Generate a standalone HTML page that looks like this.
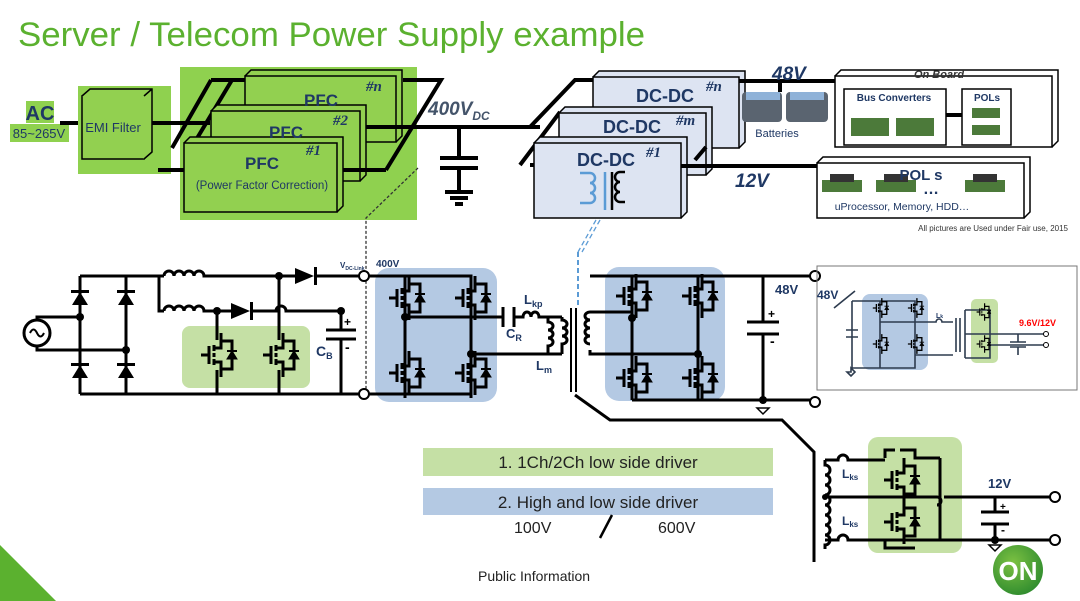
<!DOCTYPE html>
<html><head><meta charset="utf-8"><style>
html,body{margin:0;padding:0;background:#fff;}
svg{display:block;font-family:"Liberation Sans",sans-serif;}
</style></head><body>
<svg width="1080" height="601" viewBox="0 0 1080 601" xmlns="http://www.w3.org/2000/svg">
<defs>
<g id="m" fill="none" stroke="#000" stroke-width="3">
<path d="M-16 0H-8M-8 -9V9M-3 -10V-4M-3 -2V2M-3 4V10M-3 -7H4V-22M-3 7H4V22M4 -14H15V14H4"/>
<polygon points="10,4 20,4 15,-4" fill="#000" stroke-width="1"/>
<path d="M10 -4H20" stroke-width="2"/>
</g>
</defs>
<text x="18" y="46" font-size="34.5" fill="#5bb12f" textLength="627" lengthAdjust="spacingAndGlyphs">Server / Telecom Power Supply example</text>
<polygon points="0,545 0,601 56,601" fill="#5bb12f"/>

<!-- AC -->
<rect x="26" y="101" width="28" height="22" fill="#8fd14f"/>
<rect x="10" y="124" width="59" height="18" fill="#8fd14f"/>
<text x="40" y="120" font-size="20" font-weight="bold" fill="#1f3864" text-anchor="middle">AC</text>
<text x="39" y="138" font-size="13" fill="#1f3864" text-anchor="middle">85~265V</text>
<path d="M60 123H82" stroke="#000" stroke-width="4"/>
<rect x="78" y="86" width="93" height="88" fill="#8fd14f"/>
<rect x="82" y="96" width="62" height="63" fill="#92d050" stroke="#000" stroke-width="1.5"/>
<path d="M82 96l8-7h62v63l-8 7M144 96l8-7" fill="#92d050" stroke="#000" stroke-width="1.5"/>
<text x="113" y="132" font-size="13" fill="#1f3864" text-anchor="middle">EMI Filter</text>

<!-- PFC -->
<rect x="180" y="67" width="237" height="153" fill="#8fd14f"/>
<g stroke="#000" stroke-width="4" fill="none">
<path d="M152 123H210M158 170H185M211 80H246M211 80L172 148M232 80L190 150"/>
</g>
<g stroke="#000" stroke-width="1.5" fill="#92d050">
<path d="M245 76l6-6h151v66l-6 6"/><rect x="245" y="76" width="151" height="66"/>
<path d="M211 111l6-6h149v70l-6 6"/><rect x="211" y="111" width="149" height="70"/>
<path d="M184 143l6-6h153v69l-6 6"/><rect x="184" y="143" width="153" height="69"/>
</g>
<g font-weight="bold" fill="#1f3864" font-size="17" text-anchor="middle">
<text x="321" y="106">PFC</text><text x="286" y="138">PFC</text><text x="262" y="169">PFC</text></g>
<text x="262" y="189" font-size="11.5" fill="#1f3864" text-anchor="middle">(Power Factor Correction)</text>
<g font-family="Liberation Serif" font-style="italic" font-weight="bold" font-size="15" fill="#1f3864">
<text x="366" y="91">#n</text><text x="333" y="125">#2</text><text x="306" y="155">#1</text></g>
<g stroke="#000" stroke-width="4" fill="none">
<path d="M366 127H540M343 170H386M403 80H441L386 170"/>
<path d="M459 127V158M440 158h38M440 168h38M459 168V192M445 192h28M450 198h18M455 204h8"/>
</g>
<text x="428" y="115" font-size="19" font-weight="bold" font-style="italic" fill="#44546a">400V<tspan font-size="12" dy="5">DC</tspan></text>
<path d="M418 168L366 218V400" stroke="#333" stroke-width="1.3" stroke-dasharray="3,2" fill="none"/>

<!-- DC-DC -->
<g stroke="#000" stroke-width="4" fill="none">
<path d="M530 127L575 80H600M520 165L560 112M530 165H540"/>
</g>
<g stroke="#000" stroke-width="1.5" fill="#dde4f2">
<path d="M593 77l6-6h146v71l-6 6"/><rect x="593" y="77" width="146" height="71"/>
<path d="M559 113l6-6h147v62l-6 6"/><rect x="559" y="113" width="147" height="62"/>
<path d="M534 143l6-6h147v75l-6 6"/><rect x="534" y="143" width="147" height="75"/>
</g>
<g font-weight="bold" fill="#1f3864" font-size="18" text-anchor="middle">
<text x="665" y="102">DC-DC</text><text x="632" y="133">DC-DC</text><text x="606" y="166">DC-DC</text></g>
<g font-family="Liberation Serif" font-style="italic" font-weight="bold" font-size="15" fill="#1f3864">
<text x="706" y="91">#n</text><text x="676" y="125">#m</text><text x="646" y="157">#1</text></g>
<path d="M580 173h10a5 5 0 0 1 0 10a5 5 0 0 1 0 10a5 5 0 0 1 0 10h-10M605 172V210" stroke="#5b9bd5" stroke-width="2.5" fill="none"/>
<path d="M625 172h-5a5 5 0 0 0 0 10a5 5 0 0 0 0 10a5 5 0 0 0 0 10h5M612 172V210" stroke="#000" stroke-width="2.5" fill="none"/>
<g stroke="#000" stroke-width="4" fill="none">
<path d="M739 81H835M780 81V92M681 166H817M706 147L695 160"/>
</g>
<path d="M596 220L578 252M600 220L582 252" stroke="#5b9bd5" stroke-width="1.3" stroke-dasharray="5,3"/>
<text x="772" y="80" font-size="19" font-weight="bold" font-style="italic" fill="#1f3864">48V</text>
<text x="735" y="187" font-size="19" font-weight="bold" font-style="italic" fill="#1f3864">12V</text>
<rect x="742" y="92" width="40" height="30" rx="4" fill="#5a6470"/>
<rect x="786" y="92" width="42" height="30" rx="4" fill="#5a6470"/>
<rect x="746" y="92" width="34" height="8" fill="#8fb2d8"/><rect x="790" y="92" width="34" height="8" fill="#8fb2d8"/>
<text x="777" y="137" font-size="11" fill="#1f3864" text-anchor="middle">Batteries</text>
<g stroke="#000" stroke-width="1.5" fill="#fff">
<path d="M835 76l6-6h217v71l-6 6"/><rect x="835" y="76" width="217" height="71"/>
<rect x="844" y="89" width="102" height="56"/><rect x="962" y="89" width="49" height="56"/>
<path d="M817 163l6-6h207v55l-6 6"/><rect x="817" y="163" width="207" height="55"/>
</g>
<path d="M946 115H962" stroke="#000" stroke-width="4"/>
<text x="939" y="78" font-size="11" font-style="italic" font-weight="bold" fill="#333" text-anchor="middle">On Board</text>
<text x="894" y="101" font-size="10" font-weight="bold" fill="#1f3864" text-anchor="middle">Bus Converters</text>
<text x="987" y="101" font-size="10" font-weight="bold" fill="#1f3864" text-anchor="middle">POLs</text>
<g fill="#4c7a3a"><rect x="851" y="118" width="38" height="18"/><rect x="896" y="118" width="38" height="18"/>
<rect x="972" y="108" width="28" height="10"/><rect x="972" y="125" width="28" height="10"/>
<rect x="822" y="180" width="40" height="12"/><rect x="876" y="180" width="40" height="12"/><rect x="965" y="180" width="40" height="12"/></g>
<g fill="#333"><rect x="830" y="174" width="24" height="8"/><rect x="884" y="174" width="24" height="8"/><rect x="973" y="174" width="24" height="8"/></g>
<text x="921" y="180" font-size="15" font-weight="bold" fill="#1f3864" text-anchor="middle">POL  s</text>
<text x="931" y="194" font-size="16" font-weight="bold" fill="#1f3864" text-anchor="middle">…</text>
<text x="902" y="210" font-size="10.5" fill="#1f3864" text-anchor="middle">uProcessor, Memory, HDD…</text>
<text x="1068" y="231" font-size="8" fill="#333" text-anchor="end">All pictures are Used under Fair use, 2015</text>

<!-- PFC circuit -->
<rect x="182" y="326" width="128" height="62" rx="8" fill="#c5e0a5"/>
<rect x="375" y="268" width="122" height="134" rx="14" fill="#b4c9e3"/>
<rect x="605" y="267" width="120" height="134" rx="14" fill="#b4c9e3"/>
<g stroke="#000" stroke-width="3" fill="none">
<circle cx="37" cy="333" r="13"/>
<path d="M30 333q3.5-7 7 0t7 0" stroke-width="2"/>
<path d="M37 320V317H80M37 346V350H126"/>
<path d="M80 276V394M126 276V394M80 276H159M80 394H364"/>
<path d="M159 276V311H164M159 276H164"/>
<path d="M164 276a5 5 0 0 1 10 0a5 5 0 0 1 10 0a5 5 0 0 1 10 0a5 5 0 0 1 10 0H295M317 276H364"/>
<path d="M164 311a5 5 0 0 1 10 0a5 5 0 0 1 10 0a5 5 0 0 1 10 0a5 5 0 0 1 10 0H231M252 311H276a5 5 0 0 1 10 0H341V330M341 339V394"/>
<path d="M217 311V340M217 370V394M279 276V340M279 370V394"/>
<path d="M326 330h30M326 339h30"/>
</g>
<g fill="#000">
<polygon points="295,268 295,284 314,276"/><rect x="314" y="267" width="3" height="18"/>
<polygon points="231,303 231,319 250,311"/><rect x="250" y="302" width="3" height="18"/>
<polygon points="72,305 88,305 80,292"/><rect x="71" y="290" width="18" height="3"/>
<polygon points="118,305 134,305 126,292"/><rect x="117" y="290" width="18" height="3"/>
<polygon points="72,378 88,378 80,365"/><rect x="71" y="363" width="18" height="3"/>
<polygon points="118,378 134,378 126,365"/><rect x="117" y="363" width="18" height="3"/>
<circle cx="80" cy="317" r="4"/><circle cx="126" cy="350" r="4"/><circle cx="217" cy="311" r="4"/><circle cx="279" cy="276" r="4"/><circle cx="341" cy="311" r="4"/>
</g>
<use href="#m" x="217" y="355"/><use href="#m" x="279" y="355"/>
<text x="344" y="326" font-size="12" font-weight="bold">+</text><text x="345" y="352" font-size="14" font-weight="bold">-</text>
<text x="316" y="356" font-size="14" font-weight="bold" fill="#1f3864">C<tspan font-size="9" dy="3">B</tspan></text>
<text x="340" y="268" font-size="8" font-weight="bold" fill="#1f3864">V<tspan font-size="5" dy="2">DC-Link</tspan></text>
<text x="376" y="267" font-size="10" font-weight="bold" fill="#1f3864">400V</text>
<g stroke="#000" stroke-width="2" fill="#fff"><circle cx="364" cy="276" r="5"/><circle cx="364" cy="394" r="5"/></g>

<!-- full bridge primary -->
<g stroke="#000" stroke-width="3" fill="none">
<path d="M369 276H471V398M369 394H471M405 276V398M405 317H503M514 317H523a4 5 0 0 1 8 0a4 5 0 0 1 8 0H562M471 354H562"/>
<path d="M503 307v20M514 307v20"/>
<path d="M548 317v5a5 4 0 0 1 0 8a5 4 0 0 1 0 8a5 4 0 0 1 0 8v8"/>
<path d="M562 317v3a5 4 0 0 1 0 8a5 4 0 0 1 0 8a5 4 0 0 1 0 8v10"/>
<path d="M590 312a-5 4 0 0 0 0 8a-5 4 0 0 0 0 8a-5 4 0 0 0 0 8a-5 4 0 0 0 0 8"/>
<path d="M590 312H632M590 350v4H698M632 276V400M698 276V400M590 276H815M632 400H815M763 276V322M763 334V400"/>
<path d="M747 322h32M747 334h32"/>
<path d="M575 395L610 420H782L814 452V562"/>
</g>
<path d="M571 308V392M576 308V392" stroke="#000" stroke-width="2"/>
<path d="M578 252V305" stroke="#5b9bd5" stroke-width="2" stroke-dasharray="5,3"/>
<g fill="#000"><circle cx="405" cy="317" r="4"/><circle cx="471" cy="354" r="4"/><circle cx="632" cy="318" r="4"/><circle cx="698" cy="354" r="4"/><circle cx="763" cy="400" r="4"/></g>
<use href="#m" x="405" y="298"/><use href="#m" x="471" y="298"/><use href="#m" x="405" y="373"/><use href="#m" x="471" y="373"/>
<use href="#m" x="632" y="296"/><use href="#m" x="698" y="296"/><use href="#m" x="632" y="378"/><use href="#m" x="698" y="378"/>
<path d="M757 408h12l-6 6z" stroke="#000" stroke-width="1.5" fill="#fff"/>
<text x="524" y="304" font-size="13" font-weight="bold" fill="#1f3864">L<tspan font-size="9" dy="3">kp</tspan></text>
<text x="506" y="338" font-size="13" font-weight="bold" fill="#1f3864">C<tspan font-size="9" dy="3">R</tspan></text>
<text x="536" y="370" font-size="13" font-weight="bold" fill="#1f3864">L<tspan font-size="9" dy="3">m</tspan></text>
<text x="775" y="294" font-size="13" font-weight="bold" fill="#1f3864">48V</text>
<text x="768" y="318" font-size="12" font-weight="bold">+</text><text x="770" y="346" font-size="14" font-weight="bold">-</text>
<g stroke="#000" stroke-width="2" fill="#fff"><circle cx="815" cy="276" r="5"/><circle cx="815" cy="402" r="5"/></g>

<!-- inset -->
<rect x="817" y="266" width="260" height="124" fill="none" stroke="#777" stroke-width="1"/>
<rect x="862" y="294" width="66" height="76" rx="8" fill="#b4c9e3"/>
<rect x="971" y="299" width="27" height="64" rx="5" fill="#c5e0a5"/>
<text x="817" y="299" font-size="12" font-weight="bold" fill="#1f3864">48V</text>
<g stroke="#2d3b4e" stroke-width="1.6" fill="none">
<path d="M834 308L855 291M852 301H915V368H852V301M852 301V330M852 337V368M846 330h12M846 337h12M880 301V368M880 322H936a3 3 0 0 1 6 0H953M915 355H953"/>
<path d="M851 368v4l-4 0l4 4l4-4z"/>
<path d="M956 318v34M960 318v34M965 310V358M965 310H990V358H965M965 334H1045M990 345H1045M1018 334v8M1018 347v8M1010 342h16M1010 347h16"/>
</g>
<g transform="translate(880,317) scale(0.45)"><use href="#m" x="0" y="-20"/><use href="#m" x="78" y="-20"/><use href="#m" x="0" y="60"/><use href="#m" x="78" y="60"/></g>
<g transform="translate(983,312) scale(0.4)"><use href="#m"/><use href="#m" y="80"/></g>
<text x="936" y="318" font-size="7" font-weight="bold" fill="#1f3864">L<tspan font-size="5">k</tspan></text>
<text x="1019" y="326" font-size="9" font-weight="bold" fill="#ff0000">9.6V/12V</text>
<g stroke="#000" stroke-width="1" fill="#fff"><circle cx="1046" cy="334" r="2.5"/><circle cx="1046" cy="345" r="2.5"/></g>

<!-- 12V secondary -->
<rect x="868" y="437" width="94" height="116" rx="10" fill="#c5e0a5"/>
<g stroke="#000" stroke-width="3" fill="none">
<path d="M825 460v5a5 5 0 0 1 0 10a5 5 0 0 1 0 10a5 5 0 0 1 0 10a5 5 0 0 1 0 10a5 5 0 0 1 0 10a5 5 0 0 1 0 10a5 5 0 0 1 0 10a5 5 0 0 1 0 10v4"/>
<path d="M825 460H838a5 5 0 0 1 10 0H885M825 540H838a5 5 0 0 1 10 0H885M825 497H937a4 4 0 0 1 0 8H940M944 497H1050M885 540H1050M940 458V540M885 458V450H895M900 450H915V458H940M885 540V548H915"/>
<path d="M995 497V512M995 524V540M981 512h28M981 524h28"/>
</g>
<use href="#m" x="900" y="480"/>
<use href="#m" x="900" y="522"/>
<g fill="#000"><circle cx="825" cy="497" r="3"/><circle cx="995" cy="540" r="4"/></g>
<path d="M989 545h12l-6 6z" stroke="#000" stroke-width="1.5" fill="#fff"/>
<text x="842" y="478" font-size="12" font-weight="bold" fill="#1f3864">L<tspan font-size="8" dy="2">ks</tspan></text>
<text x="842" y="525" font-size="12" font-weight="bold" fill="#1f3864">L<tspan font-size="8" dy="2">ks</tspan></text>
<text x="988" y="488" font-size="13" font-weight="bold" fill="#1f3864">12V</text>
<text x="1000" y="510" font-size="10" font-weight="bold">+</text><text x="1001" y="534" font-size="12" font-weight="bold">-</text>
<g stroke="#000" stroke-width="2" fill="#fff"><circle cx="1055" cy="497" r="5"/><circle cx="1055" cy="540" r="5"/></g>

<!-- text boxes -->
<rect x="423" y="448" width="350" height="28" fill="#c5e0a5"/>
<rect x="423" y="488" width="350" height="27" fill="#b4c9e3"/>
<text x="598" y="468" font-size="17" fill="#222" text-anchor="middle">1. 1Ch/2Ch low side driver</text>
<text x="598" y="508" font-size="17" fill="#222" text-anchor="middle">2. High and low side driver</text>
<text x="514" y="533" font-size="16" fill="#222">100V</text>
<text x="658" y="533" font-size="16" fill="#222">600V</text>
<path d="M600 538L612 515" stroke="#000" stroke-width="2.5"/>
<text x="478" y="581" font-size="14" fill="#222">Public Information</text>
<defs><radialGradient id="g" cx="0.4" cy="0.35" r="0.7"><stop offset="0" stop-color="#7cc142"/><stop offset="1" stop-color="#2e8b2e"/></radialGradient></defs>
<circle cx="1018" cy="570" r="25" fill="url(#g)"/>
<text x="1018" y="580" font-size="26" font-weight="bold" fill="#fff" text-anchor="middle">ON</text>
</svg>
</body></html>
